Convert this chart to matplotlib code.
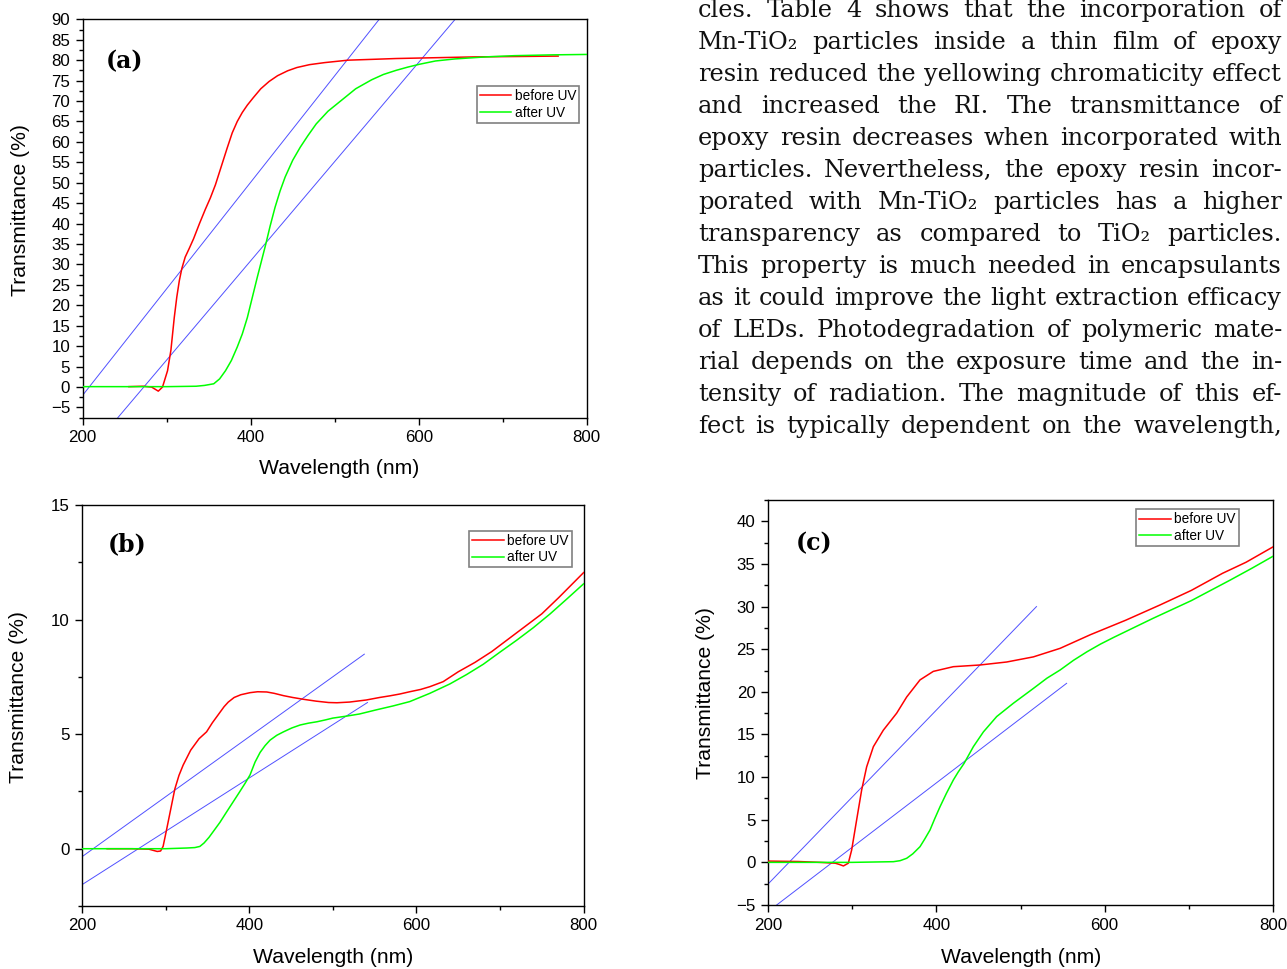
import matplotlib
matplotlib.use('Agg')
import matplotlib.pyplot as plt
from matplotlib.ticker import MultipleLocator

plt.rcParams['font.family'] = ['Liberation Sans', 'DejaVu Sans']

##################################
# Data
##################################
# panel (a)
a_before_x = [255, 272, 282, 290, 295, 301, 305, 309, 312, 315, 318, 322, 327, 332, 339, 346, 352, 358, 365,
              372, 378, 384, 390, 396, 403, 412, 422, 432, 444, 455, 470, 488, 516, 545, 573, 620, 667, 720, 766]
a_before_y = [0.1, 0.2, 0.0, -1.0, 0.0, 4.0, 9.0, 17.0, 22.0, 26.0, 29.0, 31.8, 34.0, 36.3, 40.0, 43.5, 46.3, 49.5, 54.0,
              58.5, 62.2, 65.0, 67.2, 69.0, 70.8, 73.0, 74.8, 76.2, 77.4, 78.2, 78.9, 79.4, 80.0, 80.2, 80.4, 80.6, 80.8,
              80.9, 81.0]
a_after_x = [200, 250, 300, 335, 345, 356, 363, 370, 377, 384, 390, 396, 402, 408, 413, 418, 423, 429, 435, 441,
             450, 459, 468, 478, 492, 507, 525, 544, 558, 573, 587, 601, 620, 643, 680, 714, 760, 800]
a_after_y = [0.1, 0.1, 0.1, 0.2, 0.4, 0.8, 2.0, 4.0, 6.5, 9.8, 13.0, 17.0, 22.0, 27.0, 31.0, 35.0, 39.3, 44.0, 48.0, 51.4,
             55.5, 58.7, 61.5, 64.4, 67.5, 70.0, 73.0, 75.2, 76.5, 77.5, 78.3, 79.0, 79.8, 80.3, 80.8, 81.1, 81.3, 81.4]
a_tangent1 = [(200, -2.0), (553, 90.0)]
a_tangent2 = [(241.8, -7.5), (643.4, 90.0)]

# panel (b)
b_before_x = [230, 260, 280, 286, 290, 294, 297, 301, 306, 311, 316, 321, 330, 340, 349, 356, 363, 370, 375, 382,
              390, 401, 410, 421, 430, 441, 452, 465, 480, 495, 505, 520, 540, 556, 568, 580, 592, 605, 616, 632,
              650, 670, 690, 710, 730, 750, 770, 785, 800]
b_before_y = [0.0, 0.0, -0.02, -0.08, -0.12, -0.1, 0.1, 0.8, 1.7, 2.6, 3.2, 3.65, 4.3, 4.8, 5.1, 5.5, 5.85, 6.2, 6.4, 6.6,
              6.72, 6.81, 6.85, 6.84, 6.78, 6.68, 6.6, 6.52, 6.44, 6.38, 6.37, 6.4, 6.49, 6.6, 6.67, 6.75, 6.85, 6.95, 7.07, 7.29,
              7.72, 8.13, 8.6, 9.15, 9.7, 10.25, 10.95, 11.5, 12.05]
b_after_x = [200, 260, 300, 325, 335, 341, 346, 352, 358, 365, 372, 380, 388, 395, 401, 407, 413, 419, 425, 433,
             441, 451, 461, 471, 481, 491, 500, 517, 532, 552, 572, 592, 616, 640, 660, 680, 700, 720, 740, 760,
             780, 800]
b_after_y = [0.0, 0.0, 0.0, 0.03, 0.05, 0.1, 0.25, 0.5, 0.8, 1.15, 1.55, 2.0, 2.45, 2.85, 3.22, 3.78, 4.2, 4.5, 4.74, 4.95,
             5.1, 5.27, 5.4, 5.48, 5.54, 5.62, 5.7, 5.79, 5.88, 6.06, 6.23, 6.42, 6.78, 7.19, 7.6, 8.05, 8.58, 9.1, 9.65, 10.25,
             10.9, 11.56]
b_tangent1 = [(200, -0.35), (537.7, 8.49)]
b_tangent2 = [(200, -1.57), (541.5, 6.38)]

# panel (c)
c_before_x = [200, 236, 262, 280, 285, 289.6, 295.4, 299.4, 305.3, 311.3, 317.2, 325.2, 337, 352.9, 364.8, 380.6,
              396.4, 420.2, 451.9, 483.6, 515.3, 547, 583, 625, 666, 703, 740, 768, 800]
c_before_y = [0.15, 0.1, 0.0, -0.1, -0.25, -0.42, -0.1, 1.45, 4.97, 8.5, 11.2, 13.57, 15.5, 17.5, 19.4, 21.4,
              22.4, 22.95, 23.15, 23.5, 24.1, 25.1, 26.7, 28.4, 30.2, 31.9, 33.9, 35.2, 37.0]
c_after_x = [200, 260, 300, 349, 357, 364.8, 372, 380.6, 386, 392.5, 398, 404.4, 412, 420.2, 426, 432.9, 444,
             455.9, 471.7, 491.5, 515.3, 531.4, 547.2, 563, 579, 595, 611, 634, 657, 703, 749, 775, 800]
c_after_y = [0.0, 0.0, 0.0, 0.08, 0.2, 0.48, 1.0, 1.84, 2.7, 3.8, 5.1, 6.53, 8.1, 9.66, 10.6, 11.6, 13.57,
             15.3, 17.1, 18.66, 20.4, 21.6, 22.57, 23.7, 24.7, 25.6, 26.4, 27.5, 28.6, 30.7, 33.1, 34.5, 35.9]
c_tangent1 = [(200, -2.55), (519, 30.0)]
c_tangent2 = [(210.3, -5.0), (554.8, 21.0)]

series_labels = ['before UV', 'after UV']

paragraph = [
    "cles. Table 4 shows that the incorporation of",
    "Mn-TiO\u2082 particles inside a thin film of epoxy",
    "resin reduced the yellowing chromaticity effect",
    "and increased the RI. The transmittance of",
    "epoxy resin decreases when incorporated with",
    "particles. Nevertheless, the epoxy resin incor-",
    "porated with Mn-TiO\u2082 particles has a higher",
    "transparency as compared to TiO\u2082 particles.",
    "This property is much needed in encapsulants",
    "as it could improve the light extraction efficacy",
    "of LEDs. Photodegradation of polymeric mate-",
    "rial depends on the exposure time and the in-",
    "tensity of radiation. The magnitude of this ef-",
    "fect is typically dependent on the wavelength,",
]

W, H = 1287, 969


##################################
# Helper functions
##################################
def px_rect(x0, y0, x1, y1):
    # pixel box (top-left origin) -> figure fraction rect
    return [x0 / W, 1 - y1 / H, (x1 - x0) / W, (y1 - y0) / H]


def draw_panel(ax, bx, by, ax_, ay_, t1, t2, ylim, tag, tag_pos, leg_pos, ylab_pos, xlab_pos):
    ax.plot(bx, by, color='#ff0000', lw=1.1, label=series_labels[0], zorder=3)
    ax.plot(ax_, ay_, color='#00ff00', lw=1.1, label=series_labels[1], zorder=3)
    for t in (t1, t2):
        ax.plot([t[0][0], t[1][0]], [t[0][1], t[1][1]], color='#5050ff', lw=0.7, zorder=2)

    ax.set_xlim(200, 800)
    ax.set_ylim(*ylim)
    ax.xaxis.set_major_locator(MultipleLocator(200))
    ax.xaxis.set_minor_locator(MultipleLocator(100))
    ax.yaxis.set_major_locator(MultipleLocator(5))
    ax.yaxis.set_minor_locator(MultipleLocator(2.5))
    ax.tick_params(which='both', direction='out', top=False, right=False, width=1.0,
                   labelsize=12.2, pad=4)
    ax.tick_params(which='major', length=5)
    ax.tick_params(which='minor', length=3)
    for s in ax.spines.values():
        s.set_linewidth(1.0)

    ax.set_xlabel('Wavelength (nm)', fontsize=15.2)
    ax.set_ylabel('Transmittance (%)', fontsize=15.2)
    ax.xaxis.set_label_coords(*xlab_pos)
    ax.yaxis.set_label_coords(*ylab_pos)

    ax.text(tag_pos[0], tag_pos[1], tag, transform=ax.transAxes, fontsize=17, fontweight='bold',
            family='DejaVu Serif', va='center', ha='left')

    leg = ax.legend(loc='upper right', bbox_to_anchor=leg_pos, fontsize=9.8, frameon=True,
                    fancybox=False, framealpha=1, edgecolor='#808080', handlelength=2.3,
                    handletextpad=0.25, borderpad=0.22, labelspacing=0.2, borderaxespad=0)
    leg.get_frame().set_linewidth(1.2)


def draw_justified(fig, lines, x0, x1, base0, step, fs0=17.5):
    r = fig.canvas.get_renderer()
    kw = dict(family='DejaVu Serif', color='#111111', va='baseline', ha='left')
    # shrink font until the tightest line fits
    widest = 0
    for line in lines:
        t = fig.text(0, 0, line, fontsize=fs0, **kw)
        widest = max(widest, t.get_window_extent(renderer=r).width)
        t.remove()
    fs = min(fs0, fs0 * (x1 - x0) / widest * 0.99)

    for i, line in enumerate(lines):
        words = line.split(' ')
        texts = [fig.text(0, 0, w, fontsize=fs, **kw) for w in words]
        widths = [t.get_window_extent(renderer=r).width for t in texts]
        gap = ((x1 - x0) - sum(widths)) / (len(words) - 1)
        x = x0
        y = 1 - (base0 + i * step) / H
        for t, w in zip(texts, widths):
            t.set_position((x / W, y))
            x += w + gap


##################################
# Main
##################################
fig = plt.figure(figsize=(W / 100, H / 100), dpi=100)

ax_a = fig.add_axes(px_rect(82.7, 19.3, 586.7, 417.7))
draw_panel(ax_a, a_before_x, a_before_y, a_after_x, a_after_y, a_tangent1, a_tangent2,
           (-7.5, 90), '(a)', (0.046, 0.894), (0.985, 0.833), (-0.105, 0.52), (0.508, -0.104))

ax_b = fig.add_axes(px_rect(82, 505, 583.6, 906))
draw_panel(ax_b, b_before_x, b_before_y, b_after_x, b_after_y, b_tangent1, b_tangent2,
           (-2.5, 15), '(b)', (0.051, 0.902), (0.976, 0.936), (-0.107, 0.52), (0.5, -0.105))

ax_c = fig.add_axes(px_rect(768, 500, 1273, 905))
draw_panel(ax_c, c_before_x, c_before_y, c_after_x, c_after_y, c_tangent1, c_tangent2,
           (-5, 42.5), '(c)', (0.054, 0.893), (0.932, 0.977), (-0.105, 0.523), (0.501, -0.106))

draw_justified(fig, paragraph, 698, 1282, 16.7, 32.05)

fig.savefig('out.png', dpi=100)
